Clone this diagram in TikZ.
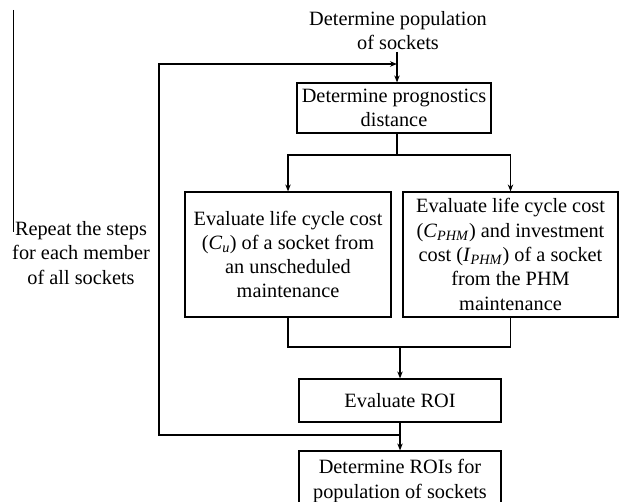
\documentclass[tikz,border=0pt]{standalone}
\usepackage{fontspec}
\setmainfont{Liberation Serif}
\usetikzlibrary{arrows.meta}
\begin{document}
\begin{tikzpicture}[x=1pt,y=-1pt,
  box/.style={draw, line width=1.2pt, inner sep=0pt, align=center, font=\fontsize{20.3}{24.3}\selectfont},
  lbl/.style={inner sep=0pt, align=center, font=\fontsize{20.3}{24.3}\selectfont},
  conn/.style={line width=1.6pt},
  arr/.style={line width=1.6pt, -{Stealth[length=7pt,width=5.5pt]}},
  dblarr/.style={line width=1.6pt, {Stealth[length=7pt,width=5.5pt]}-{Stealth[length=7pt,width=5.5pt]}},
  loopline/.style={line width=2.2pt, -{Stealth[length=7pt,width=5.5pt]}}]
\useasboundingbox (0,0) rectangle (619,502);
% text nodes
\node[lbl] (title) at (398,30.5) {Determine population\\of sockets};
\node[lbl] (rep) at (81,253) {Repeat the steps\\for each member\\of all sockets};
% boxes
\node[box, minimum width=194pt, minimum height=50pt] (prog) at (394,108) {Determine prognostics\\distance};
\node[box, minimum width=206pt, minimum height=125pt] (left) at (288,254.5)
  {Evaluate life cycle cost\\(\textit{C}\textsubscript{\textit{u}}) of a socket from\\an unscheduled\\maintenance};
\node[box, minimum width=215pt, minimum height=125pt] (right) at (510.5,254.5)
  {Evaluate life cycle cost\\(\textit{C}\textsubscript{\textit{PHM}}) and investment\\cost (\textit{I}\textsubscript{\textit{PHM}}) of a socket\\from the PHM\\maintenance};
\node[box, minimum width=202pt, minimum height=43pt] (roi) at (400,400.5) {Evaluate ROI};
\node[box, minimum width=202pt, minimum height=60pt] (fin) at (400,481) {Determine ROIs for\\population of sockets};
% helper coordinates
\coordinate (tin) at (397,52);
\coordinate (ltop) at (397,64);
\coordinate (lx) at (159,0);
\coordinate (s1) at (397,155);
\coordinate (m1) at (0,347);
\coordinate (lb) at (0,435);
% connectors
\draw[arr] (tin) -- (tin |- prog.north);
\draw[conn] (prog.south -| s1) -- (s1);
\draw[dblarr] (left.north) -- (left.north |- s1) -- (right.north |- s1) -- (right.north);
\draw[conn] (left.south) -- (left.south |- m1) -- (right.south |- m1) -- (right.south);
\draw[arr] (roi.north |- m1) -- (roi.north);
\draw[arr] (roi.south) -- (fin.north);
\draw[loopline] (roi.south |- lb) -- (lx |- lb) -- (lx |- ltop) -- (ltop);
% thin side line
\draw[line width=0.8pt] (13,10) -- (13,232);
\end{tikzpicture}
\end{document}
